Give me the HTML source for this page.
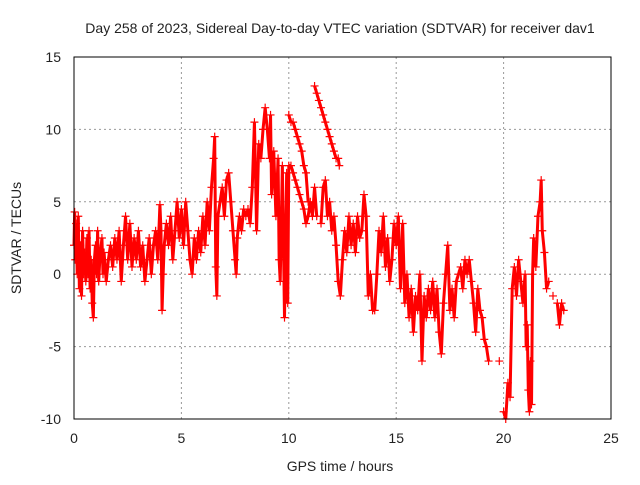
<!DOCTYPE html>
<html><head><meta charset="utf-8"><style>
body{margin:0;background:#fff;}
svg text{font-family:"Liberation Sans",sans-serif;font-size:14px;fill:#222;}
</style></head><body>
<svg id="chart" width="640" height="480" xmlns="http://www.w3.org/2000/svg">
<text x="340" y="33" text-anchor="middle">Day 258 of 2023, Sidereal Day-to-day VTEC variation (SDTVAR) for receiver dav1</text>
<text x="340" y="471" text-anchor="middle">GPS time / hours</text>
<text transform="translate(21,238) rotate(-90)" text-anchor="middle">SDTVAR / TECUs</text>
<g id="grid"></g><g id="ticks"></g><g id="marks"></g>
<rect x="74" y="57" width="537" height="362" fill="none" stroke="#000" stroke-width="1"/>
</svg>
<script>
const xTicks=[0,5,10,15,20,25];
const yTicks=[-10,-5,0,5,10,15];
const times=[0,0.03,0.06,0.1,0.15,0.2,0.25,0.3,0.35,0.4,0.45,0.5,0.55,0.6,0.65,0.7,0.75,0.8,0.85,0.9,0.95,1.0,1.05,1.1,1.15,1.2,1.3,1.35,1.4,1.5,1.6,1.7,1.8,1.9,2.0,2.1,2.2,2.3,2.4,2.5,2.6,2.7,2.8,2.9,3.0,3.1,3.2,3.3,3.4,3.5,3.6,3.7,3.8,3.9,4.0,4.05,4.1,4.15,4.2,4.3,4.4,4.5,4.6,4.7,4.8,4.9,5.0,5.1,5.2,5.3,5.4,5.5,5.6,5.7,5.8,5.9,6.0,6.1,6.2,6.3,6.4,6.5,6.55,6.6,6.65,6.7,6.8,6.9,7.0,7.1,7.2,7.3,7.4,7.5,7.55,7.6,7.7,7.8,7.9,8.0,8.1,8.2,8.3,8.4,8.45,8.5,8.6,8.7,8.8,8.9,9.0,9.1,9.15,9.2,9.3,9.4,9.5,9.55,9.6,9.7,9.8,9.9,9.95,10.0,10.1,10.2,10.3,10.4,10.5,10.6,10.7,10.8,10.9,11.0,11.1,11.2,11.3,11.5,11.6,11.7,11.8,11.9,12.0,12.1,12.2,12.3,12.4,12.5,12.6,12.7,12.8,12.9,13.0,13.1,13.2,13.3,13.4,13.5,13.6,13.7,13.8,13.9,14.0,14.1,14.2,14.3,14.4,14.5,14.6,14.7,14.8,14.9,15.0,15.1,15.2,15.3,15.4,15.5,15.6,15.7,15.8,15.9,16.0,16.1,16.2,16.3,16.4,16.5,16.6,16.7,16.8,16.9,17.0,17.1,17.2,17.3,17.4,17.5,17.6,17.7,17.8,17.9,18.0,18.1,18.2,18.3,18.4,18.5,18.6,18.7,18.8,18.9,19.0,19.1,19.2,19.3,19.8,20.0,20.1,20.2,20.3,20.4,20.5,20.6,20.7,20.8,20.9,21.0,21.05,21.1,21.15,21.2,21.25,21.3,21.35,21.4,21.5,21.6,21.7,21.75,21.8,21.9,22.0,22.1,22.3,22.5,22.6,22.7,22.8];
const values=[2,4.3,1,3.5,0,4,-1,2,-1.5,3,0,1.5,-0.5,2.5,0,3,-1,1,-2,-3,1,2,0,3,-0.5,1,2.5,0,1.5,-0.5,1,2,0.5,2.5,1,3,-0.5,2,4,1,3.5,0.5,2.5,1,3,0.5,2,-0.5,1,2.5,0,2,3,1,4.8,3,-2.5,0,2,3.5,2,4,1,3,5,2.5,4.5,2,5,3,1,0,2.5,1,3,1.5,4,2,5,3,6,8,9.5,0.5,-1.5,4,5,6,4,6.5,7,5,3,1,0,2.5,4,3,4.5,4,4.5,3.5,6,10.5,7,3,9,8,10,11.5,10,8,11,5.5,8.5,4,8,1,-0.5,7.5,-3,7,-2,7.5,7.5,7,6.5,6,5.5,5,4.5,3.5,4,5,4,6,4,3.5,6,6.5,4,5,3,4,2,-0.5,-1.5,1,3,1.5,4,2,3.5,1.5,4,2.5,3,5.5,4,-1.5,0,-2.5,-2.5,0,3,1.5,4,0.5,2.5,-0.5,1,3.5,2,4,-1,3.5,-2,0,-3,-1,-4,-1.5,-2.5,0,-6,-1.5,-3,-1,-2.5,-0.5,-3,-1,-4,-5.5,-2,0,2,-2.5,-1,-3,-0.5,0,0.5,-1,1,0,1,-0.5,-2,-4,-1,-2.5,-3,-4.5,-5,-6,-6,-9.5,-10,-7.5,-8.5,-1,0.5,-1.5,1,-0.5,-2,0,-5,-3.5,-8,-9.5,-6,-9,0,2.5,0.5,4,5,6.5,3,1.5,-1,-0.5,-1.5,-2,-3.5,-2,-2.5];
const upperTimes=[10.0,10.1,10.2,10.3,10.4,10.5,10.6,10.7,10.8,10.9,11.2,11.3,11.4,11.5,11.6,11.7,11.8,11.9,12.0,12.1,12.2,12.3,12.35];
const upperValues=[11,10.5,10.5,10,9.5,9,8.5,7.5,7,5,13,12.5,12,11.5,11,10.5,10,9.5,9,8.5,8,8,7.5];
const X0=74,X1=611,Y0=419,Y1=57;
function xs(t){return X0+(t-0)/(25-0)*(X1-X0);}
function ys(v){return Y0-(v+10)/(25)*(Y0-Y1);}
const NS="http://www.w3.org/2000/svg";
const grid=document.getElementById('grid'),ticks=document.getElementById('ticks'),marks=document.getElementById('marks');
xTicks.forEach(t=>{
 const x=xs(t);
 if(t>0&&t<25){const l=document.createElementNS(NS,'line');
 
 
 l.setAttribute('x1',x);l.setAttribute('x2',x);l.setAttribute('y1',Y1);l.setAttribute('y2',Y0);l.setAttribute('stroke','#999');l.setAttribute('stroke-dasharray','2,3');grid.appendChild(l);}
 const tx=document.createElementNS(NS,'text');
 
 
 tx.setAttribute('x',x);tx.setAttribute('y',Y0+24);tx.setAttribute('text-anchor','middle');tx.textContent=t;ticks.appendChild(tx);
});
yTicks.forEach(v=>{
 const y=ys(v);
 if(v>-10&&v<15){const l=document.createElementNS(NS,'line');
 
 
 l.setAttribute('x1',X0);l.setAttribute('x2',X1);l.setAttribute('y1',y);l.setAttribute('y2',y);l.setAttribute('stroke','#999');l.setAttribute('stroke-dasharray','2,3');grid.appendChild(l);}
 const tx=document.createElementNS(NS,'text');
 
 
 tx.setAttribute('x',X0-13);tx.setAttribute('y',y+5);tx.setAttribute('text-anchor','end');tx.textContent=v;ticks.appendChild(tx);
});
function drawSeries(ts,vs,name){
 let d='';
 for(let i=1;i<ts.length;i++){
  if(ts[i]-ts[i-1]<=0.16){d+='M'+xs(ts[i-1])+','+ys(vs[i-1])+'L'+xs(ts[i])+','+ys(vs[i]);}
 }
 const band=document.createElementNS(NS,'path');
 
 
 band.setAttribute('d',d);band.setAttribute('stroke','#f00');band.setAttribute('stroke-width','3');band.setAttribute('fill','none');marks.appendChild(band);
 for(let i=0;i<ts.length;i++){
  const x=xs(ts[i]),y=ys(vs[i]);
  const p=document.createElementNS(NS,'path');
  
  
  p.setAttribute('d','M'+(x-4)+','+y+'h8M'+x+','+(y-4)+'v8');
  p.setAttribute('stroke','#f00');p.setAttribute('stroke-width','1.2');marks.appendChild(p);
 }
}
drawSeries(times,values,'sdtvar');
drawSeries(upperTimes,upperValues,'sdtvar-upper');
</script>
</body></html>
